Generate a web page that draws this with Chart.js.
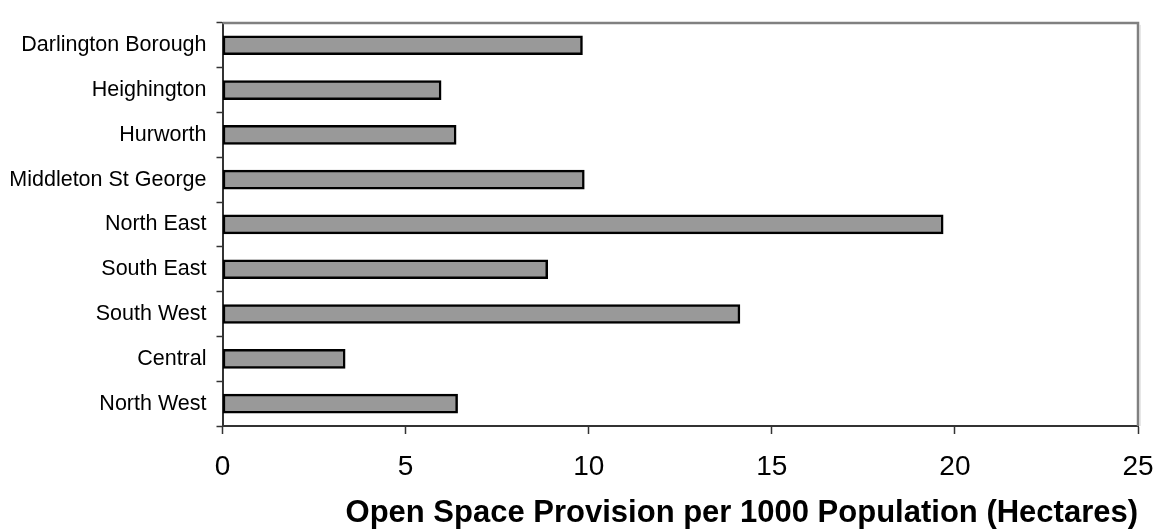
<!DOCTYPE html>
<html>
<head>
<meta charset="utf-8">
<script src="https://cdn.jsdelivr.net/npm/chart.js@4"></script>
<style>
  html, body { margin: 0; padding: 0; background: #fff; }
  #wrap { width: 1157px; height: 530px; position: relative; }
</style>
</head>
<body>
<div id="wrap"><canvas id="provisionChart"></canvas></div>
<script>
// Open space provision per 1000 population, by area
const areas = ['Darlington Borough', 'Heighington', 'Hurworth', 'Middleton St George',
  'North East', 'South East', 'South West', 'Central', 'North West'];
const hectaresPer1000 = [9.83, 5.97, 6.38, 9.88, 19.68, 8.88, 14.13, 3.35, 6.42];
const xTicks = [0, 5, 10, 15, 20, 25];
const xTitle = 'Open Space Provision per 1000 Population (Hectares)';

// grey frame on top/right of the plot area, like the old excel chart
const plotFrame = {
  id: 'plotFrame',
  beforeDatasetsDraw(chart) {
    const { ctx, chartArea: a } = chart;
    ctx.save();
    ctx.strokeStyle = '#808080';
    ctx.lineWidth = 2.5;
    ctx.beginPath();
    ctx.moveTo(a.left, a.top);
    ctx.lineTo(a.right, a.top);
    ctx.lineTo(a.right, a.bottom);
    ctx.stroke();
    ctx.strokeStyle = '#d0d0d0';
    ctx.lineWidth = 1;
    ctx.beginPath();
    ctx.moveTo(a.right + 2, a.top + 2);
    ctx.lineTo(a.right + 2, a.bottom);
    ctx.stroke();
    ctx.restore();
  }
};

const ctx = document.getElementById('provisionChart').getContext('2d');
new Chart(ctx, {
  type: 'bar',
  data: {
    labels: areas,
    datasets: [{
      data: hectaresPer1000,
      backgroundColor: '#999999',
      borderColor: '#000000',
      borderWidth: 2.5,
      borderSkipped: false,
      barThickness: 19
    }]
  },
  options: {
    indexAxis: 'y',
    responsive: true,
    maintainAspectRatio: false,
    animation: false,
    layout: { padding: { top: 17, right: 19, left: 0, bottom: 0 } },
    plugins: {
      legend: { display: false },
      tooltip: { enabled: false }
    },
    scales: {
      y: {
        grid: {
          offset: true,
          drawOnChartArea: false,
          tickLength: 6,
          tickColor: '#333333',
          tickWidth: 1.5
        },
        border: { color: '#333333', width: 2 },
        ticks: {
          color: '#000000',
          padding: 10,
          font: { family: '"Liberation Sans", Arial, sans-serif', size: 21.5 }
        },
        afterFit(scale) { scale.width = 222.5; }
      },
      x: {
        min: 0,
        max: 25,
        afterBuildTicks(scale) { scale.ticks = xTicks.map(v => ({ value: v })); },
        grid: {
          drawOnChartArea: false,
          tickLength: 8,
          tickColor: '#333333',
          tickWidth: 1.5
        },
        border: { color: '#333333', width: 2 },
        ticks: {
          color: '#000000',
          padding: 16,
          maxRotation: 0,
          font: { family: '"Liberation Sans", Arial, sans-serif', size: 28 }
        },
        title: {
          display: true,
          text: xTitle,
          align: 'end',
          color: '#000000',
          padding: { top: 22, bottom: -2 },
          font: { family: '"Liberation Sans", Arial, sans-serif', size: 31, weight: 'bold' }
        },
        afterFit(scale) {
          scale.height = 104;
          scale.paddingRight = 0; // let the "25" label hang into the margin
        }
      }
    }
  },
  plugins: [plotFrame]
});
</script>
</body>
</html>
